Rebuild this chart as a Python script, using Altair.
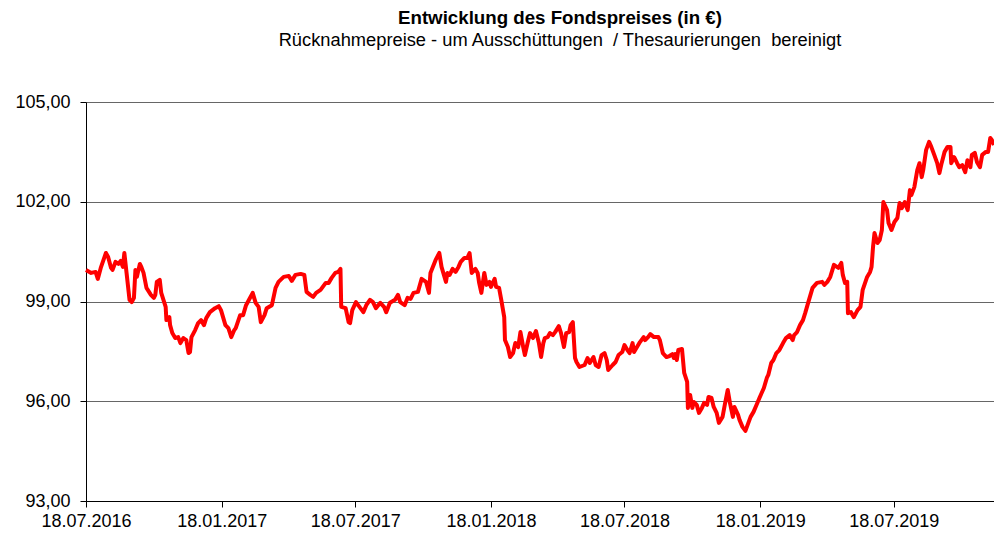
import altair as alt
import pandas as pd

# days after 18.07.2016 and fund price (EUR)
day_offsets = [0, 7, 13, 16, 20, 27, 30, 34, 36, 40, 44, 47, 50, 52, 55, 59, 62, 65, 67, 69,
               73, 75, 78, 82, 88, 92, 94, 96, 100, 102, 108, 109, 113, 114, 117, 121, 125, 128, 132, 136,
               139, 141, 143, 148, 152, 156, 160, 163, 168, 175, 180, 183, 189, 193, 197, 201, 203, 209, 213, 217,
               221, 226, 230, 234, 237, 242, 245, 252, 257, 261, 268, 275, 279, 284, 291, 296, 299, 304, 308, 312,
               318, 325, 329, 333, 338, 342, 345, 346, 352, 356, 358, 361, 366, 372, 376, 380, 385, 389, 393, 399,
               404, 407, 412, 419, 423, 426, 432, 436, 440, 444, 450, 455, 461, 465, 467, 474, 479, 482, 488, 490,
               493, 497, 501, 505, 508, 513, 517, 520, 523, 528, 531, 533, 536, 540, 543, 547, 549, 554, 556, 560,
               563, 567, 568, 572, 575, 579, 582, 586, 589, 593, 595, 599, 602, 606, 610, 614, 617, 620, 622, 626,
               629, 633, 636, 641, 644, 648, 651, 655, 657, 660, 663, 665, 669, 676, 680, 683, 688, 691, 695, 699,
               703, 706, 708, 714, 718, 722, 727, 730, 734, 737, 741, 743, 747, 751, 756, 758, 762, 765, 770, 776,
               778, 782, 787, 791, 795, 797, 799, 801, 803, 808, 811, 815, 816, 819, 822, 824, 828, 831, 835, 838,
               842, 844, 848, 851, 855, 858, 863, 866, 870, 873, 877, 879, 884, 886, 890, 894, 897, 901, 905, 909,
               913, 919, 923, 925, 929, 932, 936, 940, 945, 949, 954, 958, 960, 964, 968, 972, 975, 979, 985, 991,
               998, 1001, 1005, 1009, 1014, 1020, 1024, 1026, 1029, 1032, 1033, 1037, 1041, 1046, 1050, 1053, 1059, 1063, 1065, 1067,
               1069, 1073, 1076, 1079, 1081, 1086, 1088, 1092, 1096, 1100, 1103, 1106, 1110, 1114, 1117, 1119, 1123, 1127, 1130, 1133,
               1135, 1139, 1143, 1146, 1150, 1154, 1157, 1160, 1164, 1168, 1172, 1173, 1177, 1181, 1184, 1188, 1192, 1195, 1199, 1201,
               1205, 1208, 1212, 1215, 1220, 1223, 1226, 1228, 1231]

prices = [99.95, 99.86, 99.89, 99.68, 100.01, 100.46, 100.34, 100.01, 99.95, 100.19, 100.13, 100.22, 100.04, 100.46, 99.86, 99.05, 98.98, 99.11, 99.95, 99.74,
          100.13, 100.04, 99.86, 99.41, 99.20, 99.11, 99.20, 99.59, 99.65, 99.26, 98.84, 98.44, 98.53, 98.29, 98.05, 97.90, 97.93, 97.75, 97.90, 97.84,
          97.45, 97.48, 97.93, 98.14, 98.35, 98.44, 98.29, 98.50, 98.68, 98.80, 98.86, 98.74, 98.29, 98.20, 97.93, 98.14, 98.20, 98.59, 98.59, 98.89,
          99.05, 99.26, 98.96, 98.84, 98.38, 98.59, 98.80, 98.89, 99.41, 99.59, 99.74, 99.77, 99.62, 99.80, 99.83, 99.80, 99.29, 99.20, 99.14, 99.26,
          99.35, 99.56, 99.56, 99.71, 99.86, 99.89, 99.98, 98.84, 98.80, 98.38, 98.35, 98.74, 98.98, 98.80, 98.68, 98.89, 99.05, 98.98, 98.80, 98.96,
          98.84, 98.68, 98.96, 99.05, 99.20, 98.98, 98.89, 99.11, 99.08, 99.26, 99.29, 99.68, 99.59, 99.26, 99.86, 100.25, 100.46, 100.04, 99.59, 99.86,
          99.80, 99.98, 99.89, 100.04, 100.19, 100.31, 100.31, 100.46, 99.86, 99.98, 99.86, 99.56, 99.26, 99.86, 99.50, 99.59, 99.44, 99.68, 99.44, 99.41,
          99.05, 98.53, 97.84, 97.63, 97.33, 97.45, 97.75, 97.63, 98.08, 97.60, 97.39, 97.78, 98.05, 97.90, 98.11, 97.75, 97.33, 97.75, 97.90, 97.93,
          98.05, 97.99, 98.08, 98.26, 98.05, 97.63, 98.05, 98.08, 98.29, 98.38, 97.30, 97.18, 97.03, 97.09, 97.30, 97.15, 97.33, 97.09, 97.03, 97.39,
          97.45, 97.24, 96.94, 97.09, 97.18, 97.39, 97.48, 97.69, 97.54, 97.45, 97.75, 97.48, 97.63, 97.78, 97.93, 97.84, 97.93, 98.02, 97.93, 97.93,
          97.84, 97.45, 97.33, 97.36, 97.42, 97.30, 97.42, 97.24, 97.54, 97.57, 96.85, 96.58, 95.80, 96.19, 95.80, 95.98, 95.89, 95.65, 95.80, 95.95,
          95.89, 96.13, 96.10, 95.83, 95.65, 95.35, 95.53, 95.89, 96.34, 95.95, 95.53, 95.83, 95.59, 95.44, 95.23, 95.11, 95.29, 95.53, 95.68, 95.89,
          96.10, 96.40, 96.70, 96.79, 97.15, 97.24, 97.45, 97.54, 97.75, 97.90, 97.99, 97.84, 97.99, 98.08, 98.29, 98.44, 98.65, 98.96, 99.41, 99.56,
          99.59, 99.50, 99.59, 99.74, 100.10, 100.01, 100.16, 99.80, 99.56, 99.59, 98.65, 98.68, 98.53, 98.74, 98.84, 99.35, 99.74, 99.89, 100.04, 100.64,
          101.06, 100.76, 100.85, 101.15, 101.99, 101.75, 101.36, 101.15, 101.39, 101.51, 101.96, 101.81, 101.99, 101.75, 102.35, 102.20, 102.44, 102.95, 103.16, 102.74,
          102.95, 103.56, 103.80, 103.65, 103.41, 103.16, 102.86, 103.16, 103.50, 103.65, 103.65, 103.16, 103.34, 103.16, 103.04, 103.10, 102.89, 103.25, 103.04, 103.41,
          103.47, 103.19, 103.04, 103.41, 103.50, 103.50, 103.92, 103.86, 103.71]

y_ticks = [93, 96, 99, 102, 105]
x_tick_dates = [(2016, 7, 18), (2017, 1, 18), (2017, 7, 18), (2018, 1, 18),
                (2018, 7, 18), (2019, 1, 18), (2019, 7, 18)]

start = pd.Timestamp("2016-07-18")
df = pd.DataFrame({
    "date": start + pd.to_timedelta(day_offsets, unit="D"),
    "price": prices,
})

FONT = "Liberation Sans"

x_enc = alt.X(
    "date:T",
    scale=alt.Scale(domain=[alt.DateTime(year=2016, month=7, date=18),
                            alt.DateTime(year=2019, month=12, date=1)]),
    axis=alt.Axis(
        title=None,
        values=[alt.DateTime(year=y, month=m, date=d) for (y, m, d) in x_tick_dates],
        format="%d.%m.%Y",
        grid=False,
        domainColor="black",
        tickColor="black",
        tickSize=6,
        labelPadding=5,
        labelFont=FONT,
        labelFontSize=18,
        labelColor="black",
        labelAlign="center",
        labelFlush=False,
    ),
)

y_enc = alt.Y(
    "price:Q",
    scale=alt.Scale(domain=[93, 105], nice=False, zero=False),
    axis=alt.Axis(
        title=None,
        values=y_ticks,
        labelExpr="replace(format(datum.value, '.2f'), '.', ',')",
        grid=True,
        gridColor="#666666",
        gridWidth=1,
        domainColor="black",
        tickColor="black",
        tickSize=6,
        labelPadding=10,
        labelFont=FONT,
        labelFontSize=18,
        labelColor="black",
    ),
)

chart = alt.Chart(df).mark_line(color="#ff0000", strokeWidth=4, strokeJoin="round").encode(
    x=x_enc, y=y_enc
).properties(
    width=908,
    height=399,
    autosize=alt.AutoSizeParams(type="none"),
    padding={"left": 78, "top": 94, "right": 0, "bottom": 32},
    title=alt.TitleParams(
        text="Entwicklung des Fondspreises (in €)",
        subtitle="Rücknahmepreise - um Ausschüttungen\u00a0 / Thesaurierungen\u00a0 bereinigt",
        anchor="middle",
        dx=20,
        offset=44,
        font=FONT,
        fontSize=18.7,
        fontWeight="bold",
        color="black",
        subtitleFont=FONT,
        subtitleFontSize=18.3,
        subtitleColor="black",
        subtitlePadding=4,
    ),
).configure_view(
    stroke="#808080", strokeWidth=1
).configure(background="white")

chart.save("out.html", embed_options={"renderer": "svg", "actions": False})
